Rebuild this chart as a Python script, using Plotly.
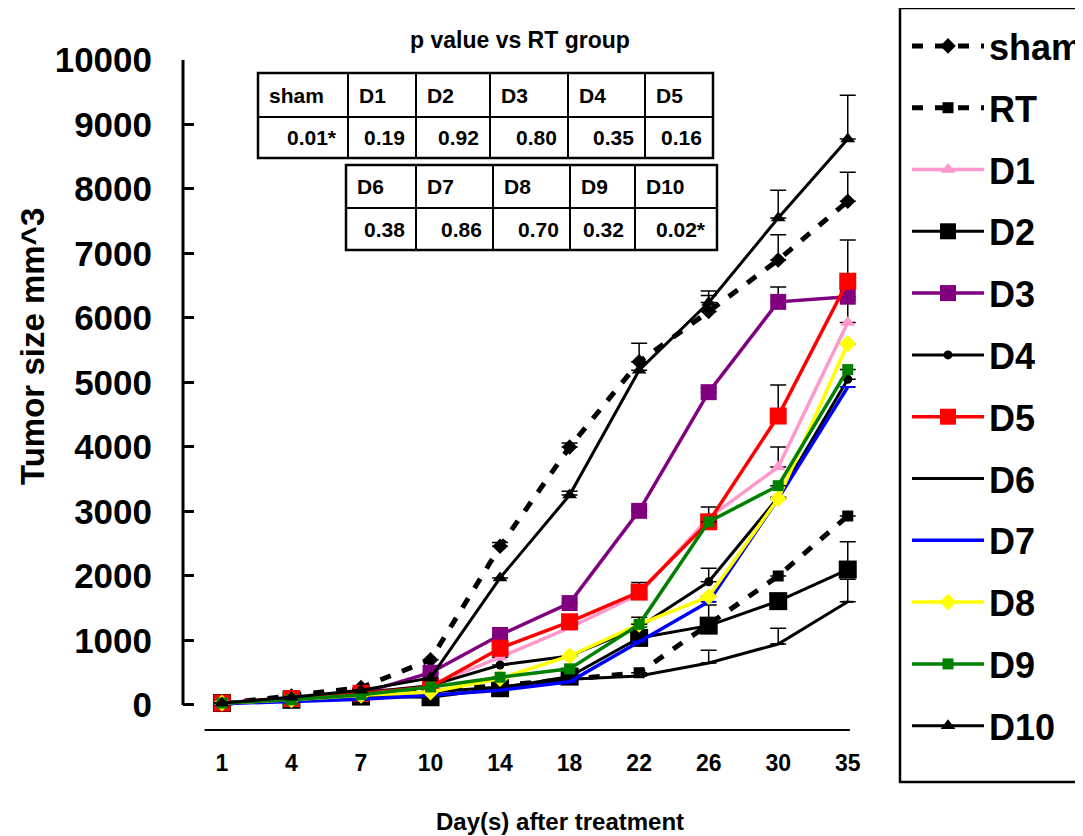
import plotly.graph_objects as go

days = ["1", "4", "7", "10", "14", "18", "22", "26", "30", "35"]
y_ticks = [0, 1000, 2000, 3000, 4000, 5000, 6000, 7000, 8000, 9000, 10000]
y_ticktext = ["0", "1000", "2000", "3000", "4000", "5000", "6000", "7000", "8000", "9000", "10000"]

sham = [20, 140, 270, 700, 2460, 4000, 5320, 6100, 6900, 7810]
rt = [20, 110, 210, 220, 300, 400, 500, 1250, 2000, 2930]
d1 = [30, 100, 180, 300, 740, 1200, 1720, 2900, 3690, 5930]
d2 = [30, 80, 130, 120, 260, 440, 1040, 1230, 1610, 2100]
d3 = [30, 100, 180, 500, 1085, 1580, 3010, 4850, 6250, 6330]
d4 = [30, 110, 190, 300, 620, 760, 1210, 1910, 3220, 5050]
d5 = [30, 100, 180, 280, 880, 1290, 1750, 2840, 4480, 6570]
d6 = [30, 90, 150, 200, 280, 400, 450, 650, 945, 1600]
d7 = [20, 60, 90, 150, 230, 360, 980, 1600, 3200, 4930]
d8 = [30, 80, 150, 200, 410, 760, 1250, 1680, 3200, 5600]
d9 = [30, 80, 160, 280, 430, 560, 1250, 2840, 3400, 5200]
d10 = [30, 120, 230, 420, 1970, 3255, 5190, 6240, 7550, 8775]

err_sham = [0, 0, 0, 0, 60, 60, 290, 250, 390, 450]
err_rt = [0, 0, 0, 0, 0, 0, 0, 0, 0, 0]
err_d1 = [0, 0, 0, 0, 0, 0, 0, 0, 310, 350]
err_d2 = [0, 0, 0, 0, 0, 0, 0, 320, 0, 430]
err_d3 = [0, 0, 0, 0, 0, 0, 50, 60, 230, 0]
err_d4 = [0, 0, 0, 0, 0, 0, 0, 210, 0, 0]
err_d5 = [0, 0, 0, 0, 0, 50, 150, 230, 480, 640]
err_d6 = [0, 0, 0, 0, 0, 0, 0, 200, 245, 350]
err_d7 = [0, 0, 0, 0, 0, 0, 0, 0, 0, 0]
err_d8 = [0, 0, 0, 0, 0, 0, 0, 0, 0, 0]
err_d9 = [0, 0, 0, 0, 0, 0, 110, 0, 0, 0]
err_d10 = [0, 0, 0, 0, 0, 60, 0, 180, 430, 680]

names = ["sham", "RT", "D1", "D2", "D3", "D4", "D5", "D6", "D7", "D8", "D9", "D10"]
series = [sham, rt, d1, d2, d3, d4, d5, d6, d7, d8, d9, d10]
errors = [err_sham, err_rt, err_d1, err_d2, err_d3, err_d4, err_d5, err_d6,
          err_d7, err_d8, err_d9, err_d10]
colors = ["black", "black", "#FF99CC", "black", "#800080", "black", "#FF0000",
          "black", "#0000FF", "#FFFF00", "#008000", "black"]
symbols = ["diamond", "square", "triangle-up", "square", "square", "circle",
           "square", "line-ew", "line-ew", "diamond", "square", "triangle-up"]
msizes = [12, 11, 13, 18, 16, 9, 17, 8, 10, 13, 11, 13]
dashes = ["11px,12px", "11px,12px"] + ["solid"] * 10
lwidths = [5, 5, 3.5, 3, 3.5, 3, 3.5, 3, 3.5, 3.5, 3.5, 3]

ptab_head1 = ["sham", "D1", "D2", "D3", "D4", "D5"]
ptab_val1 = ["0.01*", "0.19", "0.92", "0.80", "0.35", "0.16"]
ptab_head2 = ["D6", "D7", "D8", "D9", "D10"]
ptab_val2 = ["0.38", "0.86", "0.70", "0.32", "0.02*"]

# page body adds an 8px offset; figure sized to fill the window from there
OFF = 8
W, H = 1083 - OFF, 836 - OFF
L, T = 183 - OFF, 60 - OFF
PR, PB = 870 - OFF, 730 - OFF
R, B = W - PR, H - PB
PW, PH = PR - L, PB - T


def px(x):
    return (x - OFF - L) / PW


def py(y):
    return (PB - (y - OFF)) / PH


FONT = "Liberation Sans, Arial, sans-serif"

fig = go.Figure()
for i, name in enumerate(names):
    fig.add_trace(go.Scatter(
        x=days, y=series[i], name=name, mode="lines+markers",
        legendgroup=name,
        line=dict(color=colors[i], width=lwidths[i], dash=dashes[i]),
        marker=dict(symbol=symbols[i], size=msizes[i], color=colors[i],
                    line=dict(color=colors[i], width=2 if symbols[i] == "line-ew" else 0)),
        error_y=dict(type="data", symmetric=False, array=errors[i],
                     arrayminus=[0] * len(days), color="black", thickness=1.5, width=8),
    ))

shapes = []
annotations = []

# axis lines (offset style)
shapes.append(dict(type="line", xref="paper", yref="y", x0=0, x1=0, y0=0, y1=10000,
                   line=dict(color="black", width=3)))
shapes.append(dict(type="line", xref="x", yref="paper", x0=-0.25, x1=9.03, y0=0, y1=0,
                   line=dict(color="black", width=2)))
# legend frame
shapes.append(dict(type="rect", xref="paper", yref="paper", x0=px(900), x1=px(1100),
                   y0=py(782), y1=py(8), line=dict(color="black", width=2.5),
                   layer="above"))


def cell_table(cols, y0, y1, y2, heads, vals):
    shapes.append(dict(type="rect", xref="paper", yref="paper",
                       x0=px(cols[0]), x1=px(cols[-1]), y0=py(y2), y1=py(y0),
                       line=dict(color="black", width=2.5)))
    shapes.append(dict(type="line", xref="paper", yref="paper",
                       x0=px(cols[0]), x1=px(cols[-1]), y0=py(y1), y1=py(y1),
                       line=dict(color="black", width=2)))
    for c in cols[1:-1]:
        shapes.append(dict(type="line", xref="paper", yref="paper",
                           x0=px(c), x1=px(c), y0=py(y2), y1=py(y0),
                           line=dict(color="black", width=2)))
    for j, h in enumerate(heads):
        annotations.append(dict(text="<b>%s</b>" % h, xref="paper", yref="paper",
                                x=px(cols[j] + 9), y=py((y0 + y1) / 2),
                                xanchor="left", yanchor="middle", showarrow=False,
                                font=dict(family=FONT, size=21, color="black")))
        annotations.append(dict(text="<b>%s</b>" % vals[j], xref="paper", yref="paper",
                                x=px(cols[j + 1] - 9), y=py((y1 + y2) / 2),
                                xanchor="right", yanchor="middle", showarrow=False,
                                font=dict(family=FONT, size=21, color="black")))


cell_table([258, 348, 416, 490, 568, 645, 713], 73, 117, 158, ptab_head1, ptab_val1)
cell_table([346, 416, 493, 570, 635, 717], 165, 208, 250, ptab_head2, ptab_val2)

annotations.append(dict(text="<b>p value vs RT group</b>", xref="paper", yref="paper",
                        x=px(520), y=py(40), xanchor="center", yanchor="middle",
                        showarrow=False, font=dict(family=FONT, size=23, color="black")))
annotations.append(dict(text="<b>Tumor size mm^3</b>", xref="paper", yref="paper",
                        x=px(32), y=py(347), xanchor="center", yanchor="middle",
                        textangle=-90, showarrow=False,
                        font=dict(family=FONT, size=33, color="black")))
annotations.append(dict(text="<b>Day(s) after treatment</b>", xref="paper", yref="paper",
                        x=px(560), y=py(821), xanchor="center", yanchor="middle",
                        showarrow=False, font=dict(family=FONT, size=24, color="black")))

fig.update_layout(
    width=W, height=H,
    margin=dict(l=L, r=R, t=T, b=B, pad=0, autoexpand=False),
    plot_bgcolor="white", paper_bgcolor="white",
    shapes=shapes, annotations=annotations,
    xaxis=dict(type="category", range=[-0.56, 9.32], showgrid=False, zeroline=False,
               showline=False, ticks="", ticklabelstandoff=17,
               tickfont=dict(family=FONT, size=23, color="black", weight="bold")),
    yaxis=dict(range=[-388, 10000], showgrid=False, zeroline=False, showline=False,
               ticks="inside", ticklen=11, tickwidth=3, tickcolor="black",
               tickvals=y_ticks, ticktext=y_ticktext, ticklabelstandoff=30,
               tickfont=dict(family=FONT, size=35, color="black", weight="bold")),
    legend=dict(x=px(907), y=py(16), xanchor="left", yanchor="top",
                borderwidth=0, bgcolor="rgba(0,0,0,0)", maxheight=820,
                font=dict(family=FONT, size=36, color="black", weight="bold"),
                tracegroupgap=12, itemwidth=72, traceorder="grouped"),
    showlegend=True,
)

fig.write_html("out.html")
